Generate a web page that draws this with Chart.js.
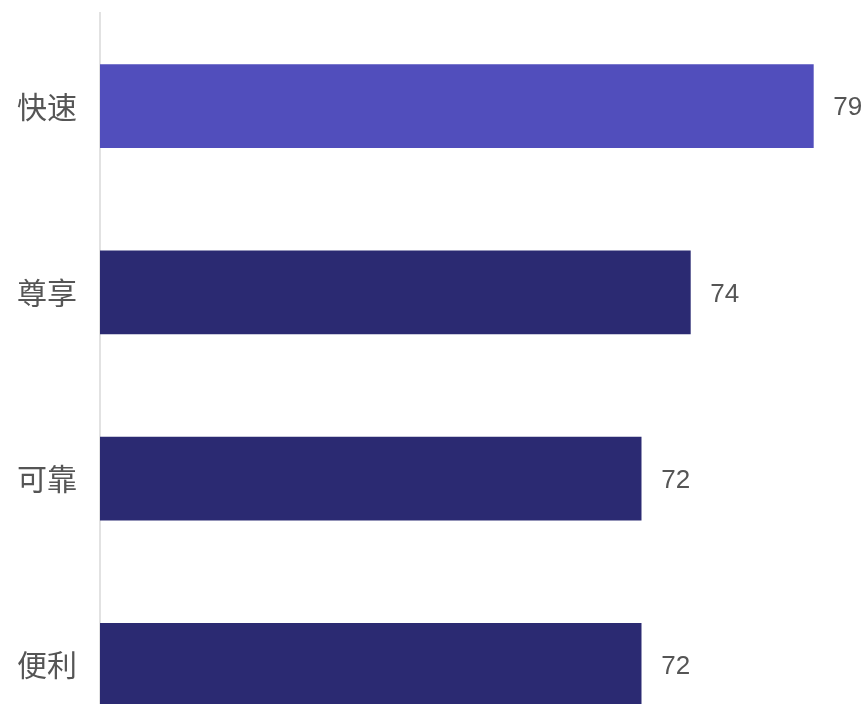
<!DOCTYPE html>
<html>
<head>
<meta charset="utf-8">
<script src="https://cdn.jsdelivr.net/npm/chart.js@4/dist/chart.umd.min.js"></script>
<style>
html,body{margin:0;padding:0;background:#fff;overflow:hidden;width:866px;height:704px;}
#wrap{position:absolute;left:0;top:0;width:866px;height:760px;}
</style>
</head>
<body>
<div id="wrap"><canvas id="c"></canvas></div>
<script>
const categories = ["快速", "尊享", "可靠", "便利"];
const values = [79, 74, 72, 72];
const barColors = ["#514EBC", "#2B2A72", "#2B2A72", "#2B2A72"];

const valueLabels = {
  id: 'valueLabels',
  afterDatasetsDraw(chart) {
    const ctx = chart.ctx;
    const meta = chart.getDatasetMeta(0);
    ctx.save();
    ctx.font = '26px "Liberation Sans", Arial, sans-serif';
    ctx.fillStyle = '#555555';
    ctx.textAlign = 'left';
    ctx.textBaseline = 'middle';
    meta.data.forEach((bar, i) => {
      ctx.fillText(String(values[i]), bar.x + 20, bar.y + 2);
    });
    ctx.restore();
  }
};

new Chart(document.getElementById('c'), {
  type: 'bar',
  data: {
    labels: categories,
    datasets: [{
      data: values,
      backgroundColor: barColors,
      barThickness: 83
    }]
  },
  options: {
    indexAxis: 'y',
    responsive: true,
    maintainAspectRatio: false,
    animation: false,
    layout: { padding: { top: 13, bottom: 2, left: 0, right: 0 } },
    plugins: { legend: { display: false }, tooltip: { enabled: false } },
    scales: {
      x: { display: false, min: 50, max: 81.14 },
      y: {
        afterFit(scale) { scale.width = 100; scale.paddingTop = 0; scale.paddingBottom = 0; },
        grid: { display: false, drawTicks: false },
        border: { display: true, color: '#e2e2e2', width: 2 },
        ticks: {
          padding: 23,
          color: '#555555',
          font: { size: 30, family: '"Noto Sans CJK SC", sans-serif' }
        }
      }
    }
  },
  plugins: [valueLabels]
});
</script>
</body>
</html>
